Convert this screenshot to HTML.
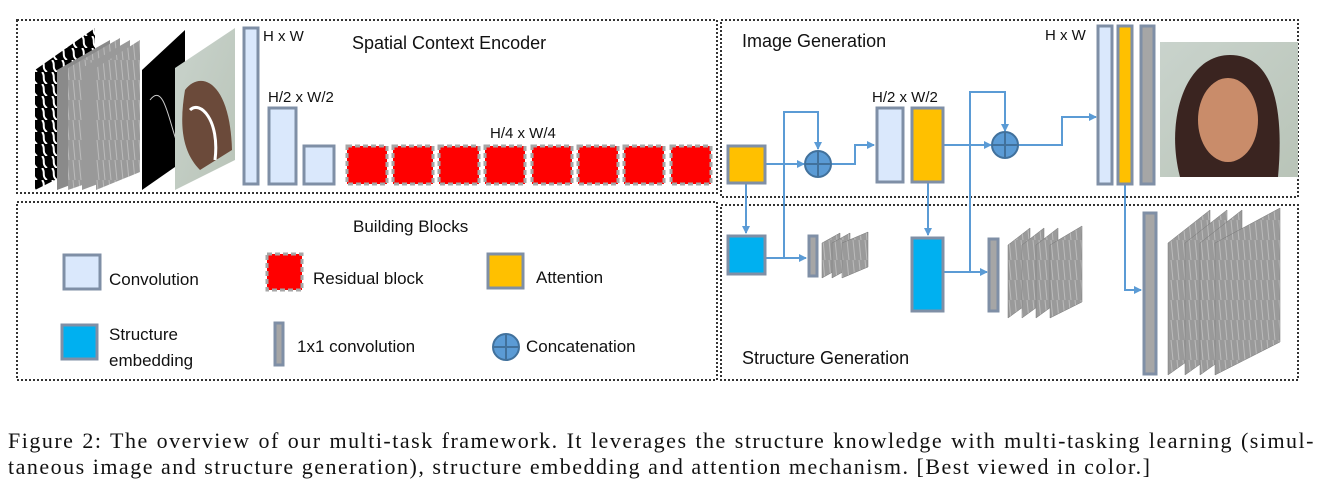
<!DOCTYPE html>
<html><head><meta charset="utf-8"><style>
html,body{margin:0;padding:0;background:#fff;width:1323px;height:486px;overflow:hidden}
svg text{font-family:"Liberation Sans",sans-serif;fill:#111}
.cap{position:absolute;left:8px;width:1307px;font-family:"Liberation Serif",serif;font-size:22px;letter-spacing:1.5px;color:#111;line-height:26px;text-align:justify;text-align-last:justify;white-space:nowrap}
</style></head><body>
<svg width="1323" height="400" style="position:absolute;left:0;top:0">
<defs>
<marker id="ar" markerWidth="8" markerHeight="8" refX="7" refY="4" orient="auto" markerUnits="userSpaceOnUse"><path d="M0,0 L8,4 L0,8z" fill="#5b9bd5"/></marker>
<linearGradient id="fg" x1="0" y1="0" x2="1" y2="1"><stop offset="0" stop-color="#c9d3cc"/><stop offset="1" stop-color="#b9c4b8"/></linearGradient>
<pattern id="st" width="6" height="20" patternUnits="userSpaceOnUse"><rect width="6" height="20" fill="#9a9a9a"/><path d="M1,0 L3,20" stroke="#bbb" stroke-width="1"/></pattern>
<pattern id="bw" width="10" height="12" patternUnits="userSpaceOnUse"><rect width="10" height="12" fill="#000"/><path d="M2,0 C6,4 1,8 7,12" stroke="#fff" stroke-width="2" fill="none"/></pattern>
</defs>
<g fill="none" stroke="#333" stroke-width="2" stroke-dasharray="2,2">
<rect x="17" y="20" width="700" height="173"/>
<rect x="721" y="20" width="577" height="177"/>
<rect x="17" y="202" width="700" height="178"/>
<rect x="721" y="205" width="577" height="175"/>
</g>
<polygon points="35,70 95,28 95,160 35,190" fill="url(#bw)"/>
<polygon points="57,70 110,40 110,170 57,190" fill="#8a8a8a"/>
<polygon points="68,68 120,38 120,172 68,190" fill="url(#st)"/>
<polygon points="82,68 130,40 130,172 82,190" fill="#999"/>
<polygon points="96,68 140,40 140,172 96,190" fill="url(#st)"/>
<polygon points="142,70 185,30 185,160 142,190" fill="#000"/>
<path d="M150,100 C165,80 170,130 180,150" stroke="#ccc" fill="none"/>
<polygon points="175,68 235,28 235,160 175,190" fill="url(#fg)"/>
<path d="M185,90 C200,70 230,80 232,150 L200,170 C180,150 180,120 185,90z" fill="#6b4a3a"/>
<path d="M190,110 C200,100 220,120 215,160" stroke="#fff" stroke-width="3" fill="none"/>
<g stroke="#7f8fa6" stroke-width="3" fill="#dae8fc">
<rect x="244" y="28" width="14" height="156"/>
<rect x="269" y="108" width="27" height="76"/>
<rect x="304" y="146" width="30" height="38"/>
</g>
<g fill="#ff0000" stroke="#a6a6a6" stroke-width="3" stroke-dasharray="5,3">
<rect x="347" y="146" width="40" height="38"/><rect x="393" y="146" width="40" height="38"/>
<rect x="439" y="146" width="40" height="38"/><rect x="485" y="146" width="40" height="38"/>
<rect x="532" y="146" width="40" height="38"/><rect x="578" y="146" width="40" height="38"/>
<rect x="624" y="146" width="40" height="38"/><rect x="671" y="146" width="40" height="38"/>
</g>
<text x="263" y="41" font-size="15">H x W</text>
<text x="268" y="102" font-size="15">H/2 x W/2</text>
<text x="490" y="138" font-size="15">H/4 x W/4</text>
<text x="352" y="49" font-size="18">Spatial Context Encoder</text>
<text x="742" y="47" font-size="18">Image Generation</text>
<text x="742" y="364" font-size="18">Structure Generation</text>
<text x="353" y="232" font-size="17">Building Blocks</text>
<g stroke="#5b9bd5" stroke-width="2" fill="none">
<path d="M766,164 H804" marker-end="url(#ar)"/>
<path d="M784,258 V112 H818 V149" marker-end="url(#ar)"/>
<path d="M831,164 H855 V145 H874" marker-end="url(#ar)"/>
<path d="M746,184 V233" marker-end="url(#ar)"/>
<path d="M766,258 H806" marker-end="url(#ar)"/>
<path d="M943,145 H991" marker-end="url(#ar)"/>
<path d="M970,272 V92 H1005 V131" marker-end="url(#ar)"/>
<path d="M1018,145 H1062 V117 H1096" marker-end="url(#ar)"/>
<path d="M928,183 V235" marker-end="url(#ar)"/>
<path d="M943,272 H987" marker-end="url(#ar)"/>
<path d="M1125,184 V290 H1141" marker-end="url(#ar)"/>
</g>
<g stroke="#7f8fa6" stroke-width="3">
<rect x="728" y="146" width="37" height="37" fill="#ffc000"/>
<rect x="877" y="108" width="26" height="74" fill="#dae8fc"/>
<rect x="912" y="108" width="31" height="74" fill="#ffc000"/>
<rect x="1098" y="26" width="14" height="158" fill="#dae8fc"/>
<rect x="1118" y="26" width="14" height="158" fill="#ffc000"/>
<rect x="1141" y="26" width="13" height="158" fill="#a6a6a6"/>
<rect x="728" y="236" width="37" height="38" fill="#00b0f0"/>
<rect x="809" y="236" width="8" height="40" fill="#a6a6a6"/>
<rect x="912" y="238" width="31" height="73" fill="#00b0f0"/>
<rect x="989" y="239" width="9" height="72" fill="#a6a6a6"/>
<rect x="1144" y="213" width="12" height="161" fill="#a6a6a6"/>
</g>
<g fill="#5b9bd5" stroke="#41719c" stroke-width="2">
<circle cx="818" cy="164" r="13"/><circle cx="1005" cy="145" r="13"/><circle cx="506" cy="347" r="13"/>
</g>
<g stroke="#41719c" stroke-width="2">
<path d="M805,164H831M818,151V177M992,145H1018M1005,132V158M493,347H519M506,334V360"/>
</g>
<text x="1045" y="40" font-size="15">H x W</text>
<text x="872" y="102" font-size="15">H/2 x W/2</text>
<rect x="1160" y="42" width="138" height="135" fill="url(#fg)"/>
<path d="M1180,177 C1165,120 1185,55 1230,55 C1270,55 1285,100 1278,177z" fill="#3a2420"/>
<ellipse cx="1228" cy="120" rx="30" ry="42" fill="#c98c6a"/>
<g fill="url(#st)" stroke="#777" stroke-width="0.5">
<polygon points="822,243 840,233 840,268 822,278"/><polygon points="832,243 850,233 850,268 832,278"/><polygon points="842,243 868,232 868,267 842,278"/>
<polygon points="1008,245 1030,228 1030,302 1008,318"/><polygon points="1022,245 1044,228 1044,302 1022,318"/><polygon points="1036,245 1058,228 1058,302 1036,318"/><polygon points="1050,245 1082,226 1082,302 1050,318"/>
<polygon points="1168,243 1210,210 1210,345 1168,375"/><polygon points="1185,243 1227,210 1227,345 1185,375"/><polygon points="1200,243 1242,210 1242,345 1200,375"/><polygon points="1215,243 1280,208 1280,342 1215,375"/>
</g>
<g stroke="#7f8fa6" stroke-width="3">
<rect x="64" y="255" width="36" height="34" fill="#dae8fc"/>
<rect x="488" y="254" width="35" height="34" fill="#ffc000"/>
<rect x="62" y="325" width="35" height="34" fill="#00b0f0"/>
<rect x="275" y="323" width="8" height="42" fill="#a6a6a6"/>
</g>
<rect x="267" y="254" width="35" height="36" fill="#ff0000" stroke="#a6a6a6" stroke-width="3" stroke-dasharray="5,3"/>
<text x="109" y="285" font-size="17">Convolution</text>
<text x="313" y="284" font-size="17">Residual block</text>
<text x="536" y="283" font-size="17">Attention</text>
<text x="109" y="340" font-size="17">Structure</text>
<text x="109" y="366" font-size="17">embedding</text>
<text x="297" y="352" font-size="17">1x1 convolution</text>
<text x="526" y="352" font-size="17">Concatenation</text>
</svg>
<div class="cap" style="top:428px">Figure 2: The overview of our multi-task framework. It leverages the structure knowledge with multi-tasking learning (simul-</div>
<div class="cap" style="top:454px;text-align-last:left">taneous image and structure generation), structure embedding and attention mechanism. [Best viewed in color.]</div>
</body></html>
